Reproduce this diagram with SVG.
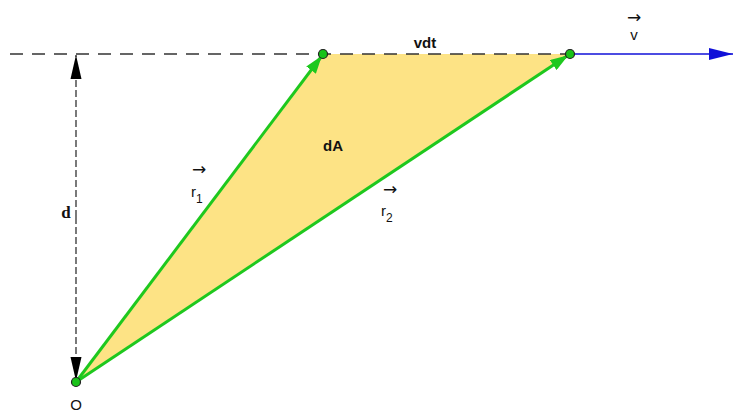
<svg xmlns="http://www.w3.org/2000/svg" width="734" height="414" viewBox="0 0 734 414">
<style>
text{font-family:"Liberation Sans",Arial,sans-serif;fill:#111}
.b{font-weight:bold;font-size:15px}
.n{font-size:15px}
.ar{font-family:"DejaVu Sans",sans-serif;font-size:17px}
.s{font-size:12px}
.pt{fill:#19c219;stroke:#222;stroke-width:1.2}
.g{stroke:#1ec81e;stroke-width:3;fill:none}
</style>
<defs>
<marker id="ga" markerWidth="6" markerHeight="4" refX="5.5" refY="2" orient="auto" markerUnits="strokeWidth"><path d="M0,0 L6,2 L0,4 z" fill="#1ec81e"/></marker>
<marker id="ka" markerWidth="24" markerHeight="12" refX="24" refY="6" orient="auto" markerUnits="userSpaceOnUse"><path d="M0,0.5 L24,6 L0,11.5 z" fill="#000"/></marker>
<marker id="ba" markerWidth="24" markerHeight="12" refX="24" refY="6" orient="auto" markerUnits="userSpaceOnUse"><path d="M0,0 L24,6 L0,12 z" fill="#1010d8"/></marker>
</defs>
<rect width="734" height="414" fill="#fff"/>
<g id="area"><polygon points="76,382 323,54 570,54" fill="#fde385"/></g>
<g id="connectors">
<line x1="10" y1="54" x2="570" y2="54" stroke="#333" stroke-width="1.3" stroke-dasharray="13,9"/>
<line x1="76" y1="217" x2="76" y2="55" stroke="#333" stroke-width="1.3" stroke-dasharray="7,3" marker-end="url(#ka)"/>
<line x1="76" y1="217" x2="76" y2="381" stroke="#333" stroke-width="1.3" stroke-dasharray="7,3" marker-end="url(#ka)"/>
<line x1="570" y1="54" x2="733" y2="54" stroke="#1010d8" stroke-width="1.6" marker-end="url(#ba)"/>
<line class="g" x1="76" y1="382" x2="321" y2="57" marker-end="url(#ga)"/>
<line class="g" x1="76" y1="382" x2="567" y2="56" marker-end="url(#ga)"/>
</g>
<g id="O"><circle class="pt" cx="76" cy="382" r="4.5"/><text class="n" x="76" y="410" text-anchor="middle">O</text></g>
<g id="P1"><circle class="pt" cx="323" cy="54" r="4.5"/></g>
<g id="P2"><circle class="pt" cx="570" cy="54" r="4.5"/></g>
<g id="labels">
<text class="b" x="425" y="48" text-anchor="middle">vdt</text>
<text class="b" x="333" y="151" text-anchor="middle">dA</text>
<text class="b" x="66" y="218" text-anchor="middle" style="font-family:'Liberation Serif',serif;font-size:17px">d</text>
<text class="ar" x="634" y="23" text-anchor="middle">→</text>
<text class="n" x="634" y="40" text-anchor="middle">v</text>
<text class="ar" x="199" y="175" text-anchor="middle">→</text>
<text class="n" x="191" y="197">r</text><text class="s" x="196" y="203">1</text>
<text class="ar" x="390" y="195" text-anchor="middle">→</text>
<text class="n" x="381" y="216">r</text><text class="s" x="386" y="222">2</text>
</g>
</svg>
